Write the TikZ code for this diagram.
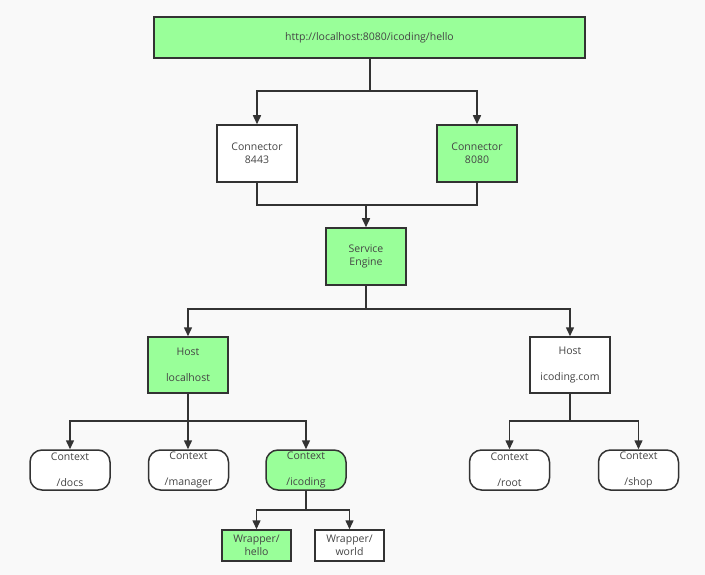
\documentclass[tikz,border=0pt]{standalone}
\usepackage{fontspec}
\setmainfont{Open Sans}
\usetikzlibrary{arrows.meta}
\definecolor{bg}{HTML}{F9F9F9}
\definecolor{grn}{HTML}{99FF99}
\definecolor{ln}{HTML}{333333}
\definecolor{tx}{HTML}{444444}
\tikzset{
  box/.style={draw=ln, line width=1.5pt, inner sep=0pt, align=center, text=tx,
    font=\fontsize{10.5}{13}\selectfont},
  sq/.style={box, minimum width=80pt, minimum height=57pt},
  ctx/.style={box, rounded corners=12pt, minimum width=80pt, minimum height=40pt},
  wrap/.style={box, minimum width=69pt, minimum height=31pt},
  on/.style={fill=grn},
  off/.style={fill=white},
  conn/.style={draw=ln, line width=1.5pt, -{Triangle[length=9pt,width=8pt]}},
  seg/.style={draw=ln, line width=1.5pt}
}
\begin{document}
\begin{tikzpicture}[x=1pt,y=-1pt]
\fill[bg] (0,0) rectangle (705,575);
\useasboundingbox (0,0) rectangle (705,575);

\node[box,on,minimum width=431pt,minimum height=41pt] (url) at (369.5,37.5) {http://localhost:8080/icoding/hello};
\node[sq,off] (c1) at (257,153.5) {Connector\\8443};
\node[sq,on] (c2) at (477,153.5) {Connector\\8080};
\node[sq,on] (eng) at (366,256.5) {Service\\Engine};
\node[sq,on,minimum height=56pt] (h1) at (188,365) {Host\\[13pt]localhost};
\node[sq,off,minimum height=56pt] (h2) at (570,365) {Host\\[13pt]icoding.com};
\node[ctx,off] (x1) at (70,470) {Context\\[13pt]/docs};
\node[ctx,off] (x2) at (188.5,470) {Context\\[13pt]/manager};
\node[ctx,on] (x3) at (306,470) {Context\\[13pt]/icoding};
\node[ctx,off] (x4) at (509.5,470) {Context\\[13pt]/root};
\node[ctx,off] (x5) at (638.5,470) {Context\\[13pt]/shop};
\node[wrap,on] (w1) at (256.5,545.5) {Wrapper/\\hello};
\node[wrap,off] (w2) at (349.5,545.5) {Wrapper/\\world};

\coordinate (j1) at (370,91);
\draw[seg] (url.south -| j1) -- (j1);
\draw[conn] (j1) -| (c1.north);
\draw[conn] (j1) -| (c2.north);

\coordinate (j2) at (366,205);
\draw[seg] (c1.south) |- (j2);
\draw[seg] (c2.south) |- (j2);
\draw[conn] (j2) -- (eng.north);

\coordinate (j3) at (366,309);
\draw[seg] (eng.south) -- (j3);
\draw[conn] (j3) -| (h1.north);
\draw[conn] (j3) -| (h2.north);

\coordinate (j4) at (188,421);
\draw[seg] (h1.south) -- (j4);
\draw[conn] (j4) -| (x1.north);
\draw[conn] (j4) -- (j4 |- x2.north);
\draw[conn] (j4) -| (x3.north);

\coordinate (j5) at (570,421);
\draw[seg] (h2.south) -- (j5);
\draw[conn] (j5) -| (x4.north);
\draw[conn] (j5) -| (x5.north);

\coordinate (j6) at (306,510);
\draw[seg] (x3.south) -- (j6);
\draw[conn] (j6) -| (w1.north);
\draw[conn] (j6) -| (w2.north);
\end{tikzpicture}
\end{document}
